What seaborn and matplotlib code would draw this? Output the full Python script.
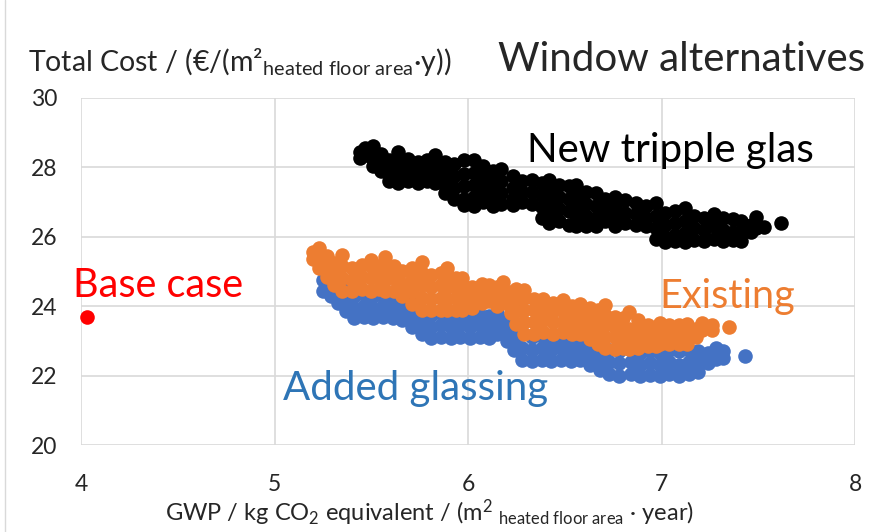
import pandas as pd
import matplotlib
matplotlib.use("Agg")
import matplotlib.pyplot as plt
import seaborn as sns

# values: one GWP column, several cost values per column
new_x = [5.44, 5.47, 5.51, 5.55, 5.59, 5.64, 5.69, 5.74, 5.79, 5.83, 5.88, 5.93,
         5.98, 6.03, 6.08, 6.13, 6.17, 6.23, 6.28, 6.33, 6.38, 6.42, 6.47, 6.52,
         6.56, 6.61, 6.66, 6.71, 6.76, 6.81, 6.87, 6.92, 6.97, 7.02, 7.07, 7.12,
         7.17, 7.22, 7.27, 7.32, 7.37, 7.41, 7.46, 7.49, 7.53, 7.62]
new_y = [[28.27, 28.45], [28.35, 28.55], [28.62, 28.25, 28.05], [28.40, 28.10, 27.90],
         [28.20, 27.85, 27.60], [28.44, 28.10, 27.75, 27.55], [28.25, 27.95, 27.60],
         [28.15, 27.80, 27.55], [28.20, 27.90, 27.60], [28.35, 28.00, 27.70, 27.55],
         [28.15, 27.85, 27.50, 27.25], [28.10, 27.75, 27.40, 27.10],
         [28.20, 27.80, 27.45, 27.10, 26.92], [28.20, 27.85, 27.50, 27.15, 26.90],
         [28.05, 27.70, 27.35, 27.00], [27.90, 27.55, 27.20, 26.90],
         [27.95, 27.60, 27.25, 26.95], [27.75, 27.40, 27.10, 26.92],
         [27.60, 27.30, 27.00], [27.65, 27.30, 26.95], [27.55, 27.20, 26.85, 26.55],
         [27.65, 27.30, 26.95, 26.60, 26.40], [27.50, 27.15, 26.80, 26.45],
         [27.45, 27.10, 26.75, 26.35], [27.50, 27.15, 26.80, 26.45, 26.30],
         [27.30, 26.95, 26.60, 26.32], [27.25, 26.90, 26.55, 26.30],
         [27.10, 26.75, 26.45], [27.15, 26.85, 26.50, 26.30], [27.05, 26.70, 26.40],
         [26.97, 26.65, 26.35], [26.90, 26.55, 26.30], [26.97, 26.60, 26.25, 25.95],
         [26.70, 26.35, 26.00, 25.86], [26.75, 26.40, 26.05, 25.88],
         [26.83, 26.45, 26.10, 25.86], [26.60, 26.25, 25.90], [26.55, 26.20, 25.88],
         [26.65, 26.30, 25.95], [26.55, 26.20, 25.88], [26.50, 26.15, 25.90],
         [26.45, 26.10, 25.88], [26.35, 26.15], [26.57, 26.25], [26.28], [26.40]]

existing_x = [5.20, 5.23, 5.27, 5.31, 5.35, 5.40, 5.45, 5.50, 5.54, 5.57, 5.62, 5.66,
              5.71, 5.76, 5.81, 5.86, 5.89, 5.94, 5.97, 6.02, 6.07, 6.11, 6.15, 6.18,
              6.22, 6.25, 6.29, 6.34, 6.39, 6.44, 6.49, 6.54, 6.58, 6.63, 6.67, 6.71,
              6.76, 6.80, 6.83, 6.88, 6.93, 6.97, 6.99, 7.04, 7.09, 7.13, 7.18, 7.21,
              7.26, 7.35]
existing_y = [[25.35, 25.55], [25.10, 25.40, 25.68], [24.85, 25.15, 25.45],
              [24.60, 24.90, 25.25], [24.45, 24.80, 25.15, 25.48], [24.45, 24.75, 25.10],
              [24.50, 24.85, 25.20], [24.45, 24.80, 25.15, 25.33], [24.50, 24.85, 25.15],
              [24.45, 24.75, 25.10, 25.42], [24.45, 24.80, 25.15], [24.30, 24.65, 25.00],
              [24.05, 24.40, 24.75, 25.10], [23.90, 24.25, 24.60, 24.95, 25.27],
              [23.88, 24.20, 24.55, 24.90], [23.90, 24.25, 24.60, 24.95],
              [23.88, 24.20, 24.55, 24.90, 25.10], [23.90, 24.25, 24.55, 24.80],
              [23.88, 24.20, 24.50, 24.81], [23.95, 24.25, 24.55], [24.10, 24.40, 24.65],
              [24.14, 24.45, 24.60], [24.00, 24.30, 24.55], [24.10, 24.40, 24.70],
              [23.80, 24.10, 24.40], [23.50, 23.85, 24.20, 24.50],
              [23.20, 23.55, 23.90, 24.25, 24.47], [23.21, 23.55, 23.90, 24.20],
              [23.25, 23.60, 23.95, 24.20], [23.21, 23.55, 23.85, 24.10],
              [23.25, 23.55, 23.85, 24.18], [23.21, 23.50, 23.80, 24.00],
              [23.20, 23.50, 23.80, 24.05], [23.05, 23.35, 23.65, 23.95],
              [22.90, 23.20, 23.55, 23.90], [22.80, 23.10, 23.45, 23.75, 24.03],
              [22.78, 23.10, 23.40, 23.70], [22.80, 23.10, 23.40, 23.65],
              [22.78, 23.05, 23.35, 23.83], [22.80, 23.10, 23.40, 23.60],
              [22.85, 23.15, 23.45], [22.85, 23.15, 23.40], [22.90, 23.20, 23.52],
              [22.90, 23.20, 23.45], [22.92, 23.20, 23.45], [22.92, 23.20, 23.50],
              [23.10, 23.35], [23.30, 23.52], [23.31, 23.45], [23.40]]

added_x = [5.25, 5.29, 5.33, 5.37, 5.41, 5.46, 5.51, 5.56, 5.61, 5.66, 5.71, 5.76,
           5.81, 5.86, 5.91, 5.96, 6.01, 6.06, 6.11, 6.15, 6.20, 6.24, 6.28, 6.33,
           6.38, 6.43, 6.48, 6.53, 6.58, 6.63, 6.68, 6.73, 6.78, 6.84, 6.89, 6.94,
           6.99, 7.04, 7.09, 7.14, 7.19, 7.24, 7.28, 7.32, 7.43]
added_y = [[24.45, 24.75], [24.30, 24.60, 24.90], [24.10, 24.40, 24.75],
           [23.85, 24.15, 24.50], [23.65, 23.95, 24.30], [23.70, 24.00, 24.35],
           [23.65, 23.95, 24.30], [23.70, 24.00, 24.30], [23.65, 23.95, 24.25],
           [23.60, 23.90, 24.20], [23.40, 23.70, 24.05], [23.20, 23.50, 23.85],
           [23.07, 23.40, 23.75], [23.10, 23.45, 23.80], [23.07, 23.40, 23.70],
           [23.10, 23.45, 23.75], [23.07, 23.40, 23.70], [23.10, 23.45, 23.75],
           [23.07, 23.40, 23.72], [23.20, 23.50, 23.80], [23.00, 23.30, 23.60],
           [22.75, 23.05, 23.40], [22.45, 22.80, 23.20], [22.41, 22.75, 23.10],
           [22.45, 22.80, 23.15], [22.41, 22.75, 23.05], [22.45, 22.80, 23.10],
           [22.41, 22.70, 23.00], [22.45, 22.80, 23.10], [22.30, 22.65, 23.00],
           [22.15, 22.50, 22.85], [22.05, 22.40, 22.75], [22.00, 22.35, 22.70],
           [22.05, 22.40, 22.75], [22.00, 22.30, 22.65], [22.02, 22.35, 22.70],
           [22.00, 22.30, 22.65], [22.05, 22.40, 22.75], [22.00, 22.30, 22.70],
           [22.05, 22.40, 22.75], [22.10, 22.45, 22.70], [22.35, 22.65],
           [22.49, 22.80], [22.50, 22.70], [22.56]]

base_x = [4.03]
base_y = [[23.68]]

x_ticks = [4, 5, 6, 7, 8]
y_ticks = [20, 22, 24, 26, 28, 30]


def to_frame(xs, ys, name):
    rows = [(x, y) for x, col in zip(xs, ys) for y in col]
    df = pd.DataFrame(rows, columns=['GWP', 'Cost'])
    df['Variant'] = name
    return df


added = to_frame(added_x, added_y, 'Added glassing')
existing = to_frame(existing_x, existing_y, 'Existing')
new = to_frame(new_x, new_y, 'New tripple glas')
base = to_frame(base_x, base_y, 'Base case')

sns.set_style('white')
plt.rcParams['font.family'] = ['Lato', 'DejaVu Sans']
plt.rcParams['mathtext.fontset'] = 'custom'
plt.rcParams['mathtext.rm'] = 'Lato'
plt.rcParams['mathtext.it'] = 'Lato:italic'
plt.rcParams['mathtext.bf'] = 'Lato:bold'

blue = '#4472C4'
orange = '#ED7D31'

fig = plt.figure(figsize=(8.77, 5.32), dpi=100)
ax = fig.add_axes([81 / 877, 87 / 532, 774 / 877, 347 / 532])

for df, c in [(added, blue), (existing, orange), (new, 'black'), (base, 'red')]:
    sns.scatterplot(data=df, x='GWP', y='Cost', color=c, s=110, linewidth=0,
                    ax=ax, legend=False, clip_on=False)

ax.set_xlim(4, 8)
ax.set_ylim(20, 30)
ax.set_xticks(x_ticks)
ax.set_yticks(y_ticks)
ax.grid(True, color='#d9d9d9', linewidth=1.2)
ax.set_axisbelow(True)
for s in ax.spines.values():
    s.set_visible(False)
ax.tick_params(axis='both', length=0, labelsize=16.5)
ax.tick_params(axis='x', pad=21)
ax.tick_params(axis='y', pad=17)
ax.set_xlabel('')
ax.set_ylabel('')

# in-plot labels
ax.text(6.305, 28.5, 'New tripple glas', fontsize=29, va='center', ha='left', color='black')
ax.text(6.99, 24.29, 'Existing', fontsize=28.5, va='center', ha='left', color=orange)
ax.text(5.044, 21.64, 'Added glassing', fontsize=29, va='center', ha='left', color='#2E75B6')
ax.text(3.96, 24.61, 'Base case', fontsize=28.5, va='center', ha='left', color='red')

fig.text(865 / 877, 1 - 60 / 532, 'Window alternatives', fontsize=29, ha='right', va='center')
fig.text(28 / 877, 1 - 62 / 532,
         r'Total Cost / (€/(m²$_{\mathregular{heated\ floor\ area}}$·y))',
         fontsize=20.5, ha='left', va='center')
fig.text(430 / 877, 1 - 513 / 532,
         r'GWP / kg CO$_2$ equivalent / (m$^2$ $_{\mathregular{heated\ floor\ area}}$ · year)',
         fontsize=17, ha='center', va='center')

# light chart frame on the left edge
fig.add_artist(plt.Line2D([5 / 877, 5 / 877], [0, 1], transform=fig.transFigure,
                          color='#d9d9d9', linewidth=1))

fig.savefig('out.png', dpi=100)
